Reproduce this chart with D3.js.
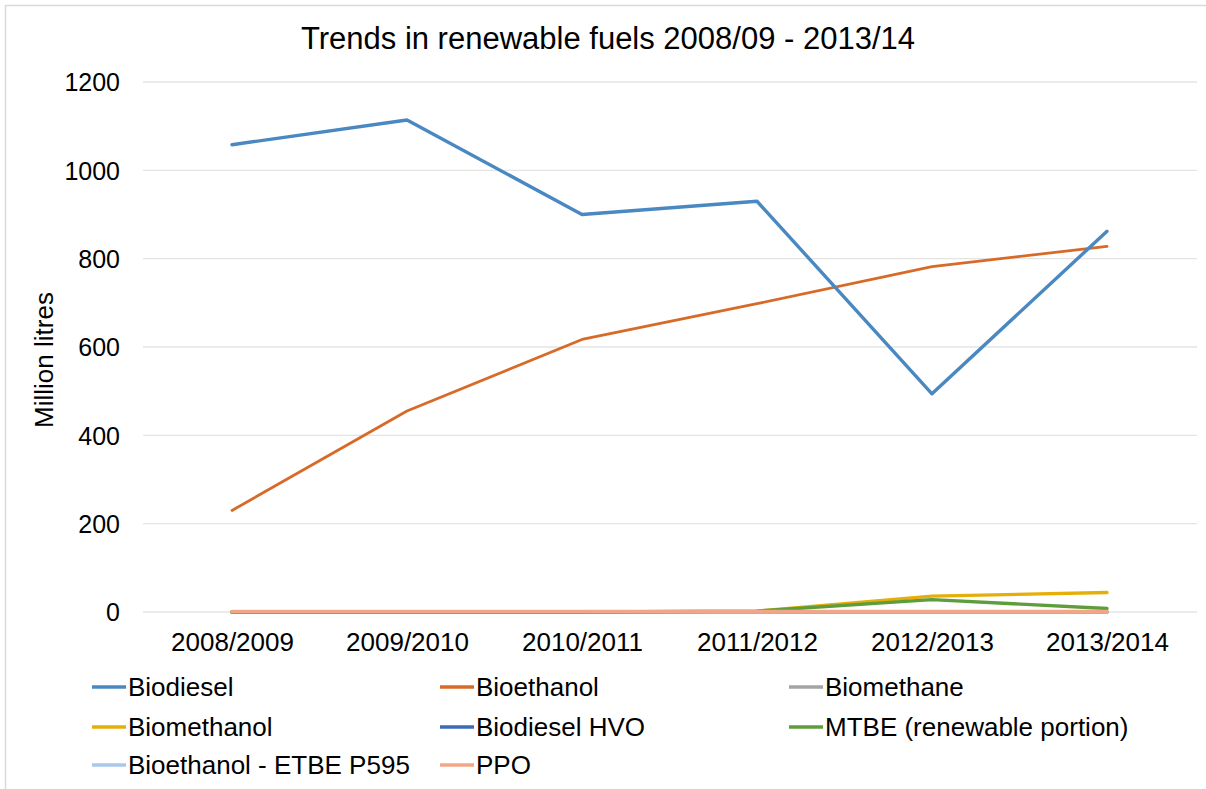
<!DOCTYPE html>
<html>
<head>
<meta charset="utf-8">
<script src="https://cdn.jsdelivr.net/npm/d3@7"></script>
<style>
  body { margin: 0; background: #fff; }
  text { font-family: "Liberation Sans", Arial, sans-serif; fill: #000; }
</style>
</head>
<body>
<svg id="chart" width="1206" height="789"></svg>
<script>
const years = ["2008/2009", "2009/2010", "2010/2011", "2011/2012", "2012/2013", "2013/2014"];
const yTicks = [0, 200, 400, 600, 800, 1000, 1200];

const biodiesel = [1058, 1114, 900, 930, 494, 862];
const bioethanol = [230, 455, 617, 698, 782, 828];
const biomethane = [0, 0, 0, 0, 0, 0];
const biomethanol = [0, 0, 0, 2, 36, 44];
const biodieselHvo = [0, 0, 0, 0, 0, 0];
const mtbe = [0, 0, 0, 2, 28, 8];
const etbe = [0, 0, 0, 0, 0, 0];
const ppo = [1, 1, 1, 1, 1, 1];

const seriesNames = ["Biodiesel", "Bioethanol", "Biomethane", "Biomethanol", "Biodiesel HVO",
  "MTBE (renewable portion)", "Bioethanol - ETBE P595", "PPO"];
const seriesValues = [biodiesel, bioethanol, biomethane, biomethanol, biodieselHvo, mtbe, etbe, ppo];
const colors = ["#4a88c2", "#d86a28", "#a5a5a5", "#e6ae0a", "#3e6bb8", "#5f9d3c", "#a9c7ea", "#f2a688"];

const svg = d3.select("#chart");

// outer frame (runs off the right and bottom edges like the source)
svg.append("rect")
  .attr("x", 5.5).attr("y", 5.5)
  .attr("width", 1210).attr("height", 800)
  .attr("fill", "#fff").attr("stroke", "#d9d9d9")
  .attr("stroke-width", 1.5);

const x = d3.scalePoint().domain(years).range([232, 1107]);
const y = d3.scaleLinear().domain([0, 1200]).range([612, 82]);

// gridlines
svg.append("g")
  .selectAll("line")
  .data(yTicks)
  .join("line")
  .attr("x1", 143).attr("x2", 1197)
  .attr("y1", d => y(d)).attr("y2", d => y(d))
  .attr("stroke", "#e4e4e4")
  .attr("stroke-width", 1.3);

// y axis labels
const yAxis = svg.append("g")
  .attr("transform", "translate(120,0)")
  .call(d3.axisLeft(y).tickValues(yTicks).tickFormat(d3.format("d")).tickSize(0).tickPadding(0));
yAxis.select(".domain").remove();
yAxis.selectAll("text")
  .style("font-size", "25px")
  .attr("dy", "0.35em");

// x axis labels
const xAxis = svg.append("g")
  .attr("transform", "translate(0,642)")
  .call(d3.axisBottom(x).tickSize(0).tickPadding(0));
xAxis.select(".domain").remove();
xAxis.selectAll("text")
  .style("font-size", "26px")
  .attr("dy", "0.35em");

// title
svg.append("text")
  .attr("x", 608).attr("y", 49)
  .attr("text-anchor", "middle")
  .style("font-size", "31px")
  .text("Trends in renewable fuels 2008/09 - 2013/14");

// y axis title
svg.append("text")
  .attr("transform", "translate(44,360) rotate(-90)")
  .attr("text-anchor", "middle")
  .attr("dy", "0.35em")
  .style("font-size", "26px")
  .text("Million litres");

const line = d3.line()
  .x((d, i) => x(years[i]))
  .y(d => y(d));

// flat series first, PPO on top of them, then the two big ones
const order = [2, 4, 6, 3, 5, 7, 1, 0];
svg.append("g")
  .selectAll("path")
  .data(order)
  .join("path")
  .attr("d", k => line(seriesValues[k]))
  .attr("fill", "none")
  .attr("stroke", k => colors[k])
  .attr("stroke-width", k => (k === 1 ? 2.8 : 3.4))
  .attr("stroke-linejoin", "round")
  .attr("stroke-linecap", "round");

// legend
const legendCols = [92, 440, 789];
const legendRows = [687, 727, 765];
const legend = svg.append("g")
  .selectAll("g")
  .data(seriesNames)
  .join("g")
  .attr("transform", (d, i) => `translate(${legendCols[i % 3]},${legendRows[Math.floor(i / 3)]})`);

legend.append("line")
  .attr("x1", 0).attr("x2", 34)
  .attr("y1", 0).attr("y2", 0)
  .attr("stroke", (d, i) => colors[i])
  .attr("stroke-width", 3.4);

legend.append("text")
  .attr("x", 36).attr("dy", "0.35em")
  .style("font-size", "26px")
  .text(d => d);
</script>
</body>
</html>
